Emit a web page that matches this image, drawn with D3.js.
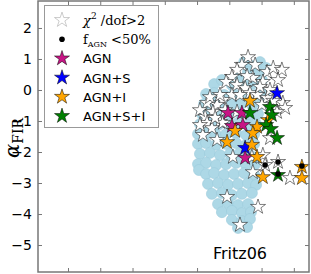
<!DOCTYPE html>
<html>
<head>
<meta charset="utf-8">
<script src="https://cdn.jsdelivr.net/npm/d3@7"></script>
<style>
body{margin:0;background:#fff;}
svg{display:block;}
</style>
</head>
<body>
<div id="chart"></div>
<script>
var width = 311, height = 274;

// axis ticks (x tick labels fall outside the picture)
var xTicks = [0, 1, 2, 3, 4, 5, 6, 7];
var yTicks = [-5, -4, -3, -2, -1, 0, 1, 2];

// Fritz06 model grid (light blue cloud)
var cloud = [
  [5.46,0.90],[5.70,0.77],[5.95,0.90],[6.14,0.71],[5.58,0.58],[5.89,0.52],[5.27,0.39],
  [4.53,0.19],[4.77,0.32],[5.08,0.16],[5.39,0.26],[5.70,0.19],[6.01,0.32],
  [4.28,-0.13],[4.53,-0.10],[4.84,-0.16],[5.15,-0.13],[5.52,-0.10],[5.83,-0.16],[6.08,-0.13],
  [4.22,-0.45],[4.46,-0.42],[4.77,-0.48],[5.08,-0.45],[5.39,-0.42],[5.70,-0.48],[6.01,-0.45],
  [4.15,-0.77],[4.40,-0.74],[4.71,-0.81],[5.02,-0.77],[5.33,-0.74],[5.64,-0.81],[5.89,-0.77],
  [4.09,-1.10],[4.34,-1.06],[4.65,-1.13],[4.96,-1.10],[5.27,-1.06],[5.58,-1.13],[5.83,-1.10],
  [4.03,-1.42],[4.28,-1.39],[4.59,-1.45],[4.90,-1.42],[5.21,-1.39],[5.52,-1.45],[5.77,-1.42],
  [4.03,-1.74],[4.28,-1.71],[4.59,-1.77],[4.90,-1.74],[5.21,-1.71],[5.52,-1.77],[5.77,-1.74],
  [4.09,-2.06],[4.40,-2.03],[4.71,-2.10],[5.02,-2.06],[5.33,-2.03],[5.64,-2.10],
  [4.03,-2.39],[4.28,-2.35],[4.59,-2.42],[4.90,-2.39],[5.21,-2.35],[5.52,-2.42],[5.80,-2.39],
  [4.06,-2.58],
  [4.28,-2.71],[4.53,-2.68],[4.84,-2.74],[5.15,-2.71],[5.46,-2.68],[5.77,-2.74],
  [4.34,-3.03],[4.65,-3.00],[4.96,-3.06],[5.27,-3.03],[5.58,-3.00],[5.83,-3.06],
  [4.46,-3.35],[4.77,-3.32],[5.08,-3.39],[5.39,-3.35],[5.70,-3.32],
  [4.65,-3.68],[4.96,-3.65],[5.27,-3.71],[5.58,-3.68],
  [4.77,-3.94],[5.08,-3.90],[5.39,-3.97],[5.67,-3.94],
  [5.08,-4.19],[5.39,-4.23],[5.64,-4.16],
  [5.27,-4.45],[5.55,-4.42]
];

// sources with chi2/dof > 2 (open stars)
var badFit = [
  [5.58,1.06],[5.39,0.81],[5.24,0.65],[5.08,0.42],[4.90,0.26],[5.73,0.39],[6.17,0.58],
  [6.36,0.71],[6.63,0.65],[6.51,0.32],[6.04,0.26],[5.24,0.16],[5.49,0.06],[5.64,-0.10],
  [5.08,-0.16],[5.86,-0.16],[6.17,-0.26],[6.66,-0.42],[6.73,-0.58],[4.80,-0.32],[4.62,-0.48],
  [4.49,-0.71],[4.31,-0.42],[4.25,-0.87],[4.31,-1.06],[4.71,-1.03],[4.46,-1.23],[4.18,-1.45],
  [5.24,-0.71],[6.48,-0.71],[4.62,-1.61],[4.80,-1.06],[6.26,-1.55],[5.11,-2.16],[5.70,-2.16],
  [6.04,-2.10],[6.11,-2.42],[6.51,-2.32],[5.73,-2.65],[6.88,-2.84],[4.93,-3.45],[5.89,-3.77],
  [5.33,-4.35],[5.95,0.10],
  [5.80,0.81],[4.71,-0.16],[4.40,-0.23],[5.33,-0.16],[6.01,-0.48],[4.56,-0.90],[4.09,-0.65],
  [4.09,-1.13],[4.87,-0.65],[6.26,0.00],[5.55,0.45],[6.36,-0.35]
];

var agn = [[4.96,-0.74],[5.39,-0.74],[5.08,-1.16],[5.42,-1.13],[5.49,-2.19]];
var agnS = [[6.48,-0.10],[5.49,-1.87]];
var agnI = [
  [5.64,-0.35],[5.86,-1.19],[5.18,-1.32],[6.20,-0.97],[5.73,-1.39],[4.93,-1.68],
  [5.70,-1.77],[5.86,-2.16],[6.04,-2.81],[7.25,-2.48],[7.25,-2.84]
];
var agnSI = [[6.26,-0.55],[6.32,-0.81],[6.14,-1.13],[6.29,-1.26],[6.48,-1.55],[6.51,-2.74],[5.64,-0.74]];

// f_AGN < 50% (black dots)
var lowAgn = [[6.11,-2.42],[6.51,-2.32],[6.51,-2.71],[7.25,-2.45]];

var legendLabels = ["chi", "fagn", "AGN", "AGN+S", "AGN+I", "AGN+S+I"];
var legendColors = ["#ffffff", null, "#c71585", "#0000ff", "#ffa500", "#008000"];

var svg = d3.select("#chart").append("svg")
  .attr("width", width).attr("height", height);

var x = d3.scaleLinear().domain([-0.93, 7.47]).range([38, 309]);
var y = d3.scaleLinear().domain([-5.87, 2.87]).range([272, 1]);

var star = d3.symbol().type(d3.symbolStar).size(70);

// cloud
svg.append("g").selectAll("circle")
  .data(cloud).enter().append("circle")
  .attr("cx", function(d){ return x(d[0]); })
  .attr("cy", function(d){ return y(d[1]); })
  .attr("r", 5.5)
  .style("fill", "#add8e6")
  .style("stroke", "#9ccbdb")
  .style("stroke-width", 0.6);

function drawStars(data, color){
  svg.append("g").selectAll("path")
    .data(data).enter().append("path")
    .attr("d", star)
    .attr("transform", function(d){ return "translate(" + x(d[0]) + "," + y(d[1]) + ")"; })
    .style("fill", color)
    .style("stroke", "#000")
    .style("stroke-width", 0.5);
}

drawStars(badFit, "#ffffff");
drawStars(agn, "#c71585");
drawStars(agnS, "#0000ff");
drawStars(agnI, "#ffa500");
drawStars(agnSI, "#008000");

svg.append("g").selectAll("circle")
  .data(lowAgn).enter().append("circle")
  .attr("cx", function(d){ return x(d[0]); })
  .attr("cy", function(d){ return y(d[1]); })
  .attr("r", 2.8)
  .style("fill", "#000");

// axes, all ticks pointing inward
function styleAxis(g){
  g.select(".domain").remove();
  g.selectAll(".tick line").style("stroke", "#777").style("stroke-width", 1);
  g.selectAll("text").style("font-family", "DejaVu Sans").style("font-size", "14px").style("fill", "#000");
}

svg.append("g").attr("transform", "translate(38,0)")
  .call(d3.axisLeft(y).tickValues(yTicks).tickSizeInner(-4).tickSizeOuter(0).tickPadding(6))
  .call(styleAxis);
svg.append("g").attr("transform", "translate(309,0)")
  .call(d3.axisRight(y).tickValues(yTicks).tickSizeInner(-4).tickSizeOuter(0).tickFormat(""))
  .call(styleAxis);
svg.append("g").attr("transform", "translate(0,272)")
  .call(d3.axisBottom(x).tickValues(xTicks).tickSizeInner(-4).tickSizeOuter(0).tickFormat(""))
  .call(styleAxis);
svg.append("g").attr("transform", "translate(0,1)")
  .call(d3.axisTop(x).tickValues(xTicks).tickSizeInner(-4).tickSizeOuter(0).tickFormat(""))
  .call(styleAxis);

svg.append("rect")
  .attr("x", 38).attr("y", 1).attr("width", 271).attr("height", 271)
  .style("fill", "none").style("stroke", "#777").style("stroke-width", 1.5);

// y label
var yl = svg.append("text")
  .attr("transform", "translate(19,158) rotate(-90)")
  .style("font-family", "DejaVu Serif")
  .style("fill", "#000");
yl.append("tspan").text("α").style("font-style", "italic").style("font-size", "21px");
yl.append("tspan").text("FIR").attr("dy", 4).style("font-size", "14px");

// model name
svg.append("text")
  .attr("x", 240).attr("y", 259)
  .attr("text-anchor", "middle")
  .style("font-family", "DejaVu Sans").style("font-size", "16px")
  .text("Fritz06");

// legend
var lg = svg.append("g");
lg.append("rect")
  .attr("x", 44.5).attr("y", 5.5).attr("width", 114).attr("height", 122)
  .style("fill", "#fff").style("stroke", "#999").style("stroke-width", 1);

var rowY = d3.scalePoint().domain(legendLabels).range([20, 116]);

legendLabels.forEach(function(lab, i){
  var cy = rowY(lab);
  if (lab === "fagn") {
    lg.append("circle").attr("cx", 62).attr("cy", cy).attr("r", 2.8).style("fill", "#000");
  } else {
    lg.append("path").attr("d", d3.symbol().type(d3.symbolStar).size(70)())
      .attr("transform", "translate(62," + cy + ")")
      .style("fill", legendColors[i])
      .style("stroke", i === 0 ? "#999" : "#000")
      .style("stroke-width", 0.5);
  }
  var t = lg.append("text").attr("x", 83).attr("y", cy + 5)
    .style("font-size", "13px").style("fill", "#000");
  if (lab === "chi") {
    t.style("font-family", "DejaVu Serif");
    t.append("tspan").text("χ").style("font-style", "italic");
    t.append("tspan").text("2").attr("dy", -6).style("font-size", "9px");
    t.append("tspan").text(" /dof>2").attr("dy", 6);
  } else if (lab === "fagn") {
    t.style("font-family", "DejaVu Serif");
    t.append("tspan").text("f");
    t.append("tspan").text("AGN").attr("dy", 3).style("font-size", "8px");
    t.append("tspan").text(" <50%").attr("dy", -3);
  } else {
    t.style("font-family", "DejaVu Sans").text(lab);
  }
});
</script>
</body>
</html>
